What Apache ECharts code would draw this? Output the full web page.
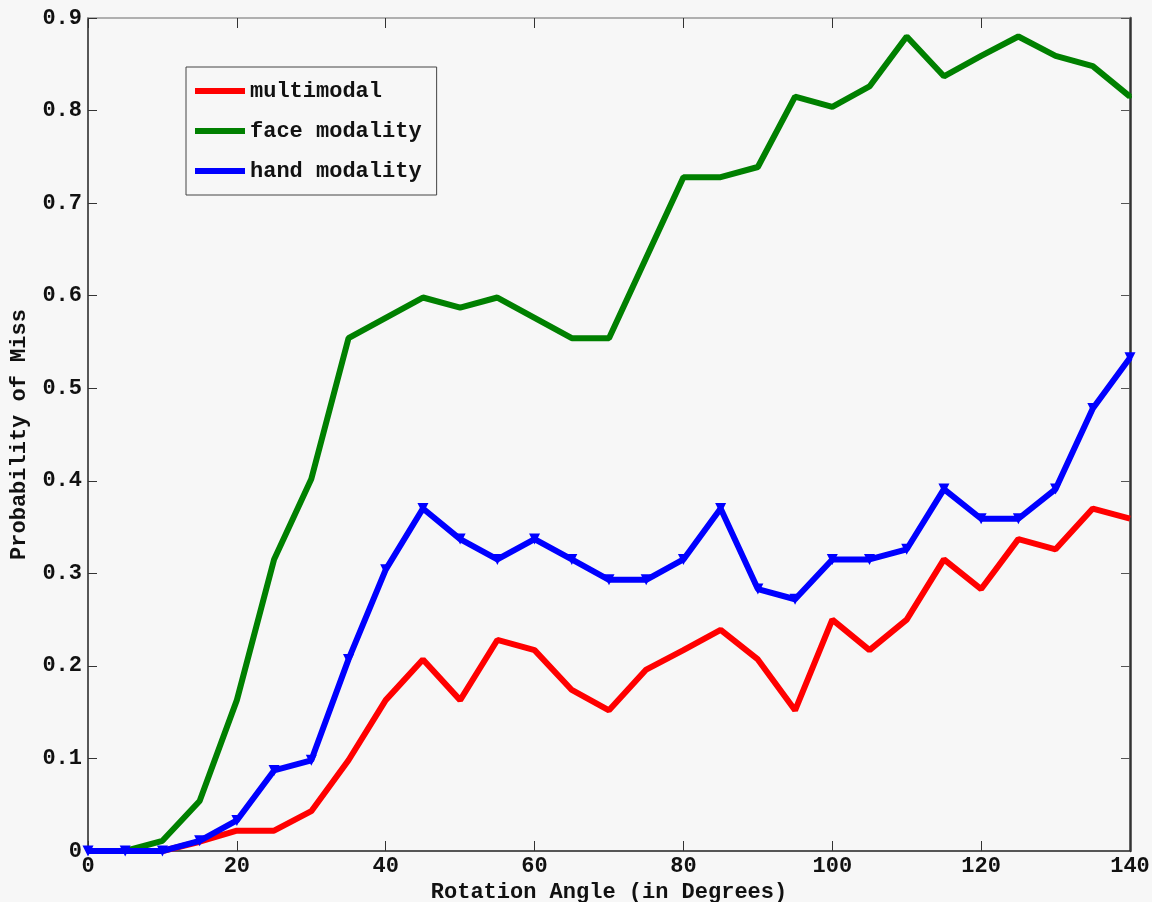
<!DOCTYPE html>
<html>
<head>
<meta charset="utf-8">
<script src="https://cdn.jsdelivr.net/npm/echarts@6/dist/echarts.min.js"></script>
<style>
html,body{margin:0;padding:0;background:#f7f7f7;}
#c{width:1152px;height:902px;}
</style>
</head>
<body>
<div id="c"></div>
<script>
const angles = [0,5,10,15,20,25,30,35,40,45,50,55,60,65,70,75,80,85,90,95,100,105,110,115,120,125,130,135,140];
const multimodal = [0,0,0,0.01,0.022,0.022,0.043,0.098,0.163,0.207,0.163,0.228,0.217,0.174,0.152,0.196,0.217,0.239,0.207,0.152,0.25,0.217,0.25,0.315,0.283,0.337,0.326,0.37,0.359];
const faceModality = [0,0,0.011,0.054,0.163,0.315,0.402,0.554,0.576,0.598,0.587,0.598,0.576,0.554,0.554,0.641,0.728,0.728,0.739,0.815,0.804,0.826,0.88,0.837,0.859,0.88,0.859,0.848,0.815];
const handModality = [0,0,0,0.011,0.033,0.087,0.098,0.207,0.304,0.37,0.337,0.315,0.337,0.315,0.293,0.293,0.315,0.37,0.283,0.272,0.315,0.315,0.326,0.391,0.359,0.359,0.391,0.478,0.533];
const seriesNames = ['multimodal','face modality','hand modality'];
const xTicks = {min:0, max:140, interval:20};
const yTicks = {min:0, max:0.9, interval:0.1};

const FONT = '"Liberation Mono", "DejaVu Sans Mono", monospace';
const txt = {fontFamily: FONT, fontWeight: 'bold', fontSize: 22, color: '#111'};
const pairs = arr => angles.map((a,i)=>[a, arr[i]]);

const chart = echarts.init(document.getElementById('c'), null, {renderer:'canvas'});
chart.setOption({
  animation: false,
  backgroundColor: '#f7f7f7',
  grid: {left: 88, right: 22, top: 18, bottom: 51, containLabel: false, outerBoundsMode: 'none'},
  legend: {
    orient: 'vertical', left: 186, top: 67,
    padding: [13, 15, 13, 9],
    itemWidth: 50, itemHeight: 6, itemGap: 18,
    icon: 'rect',
    borderColor: '#444', borderWidth: 1,
    backgroundColor: '#f7f7f7',
    textStyle: Object.assign({}, txt, {padding:[0,0,0,0]}),
    data: seriesNames
  },
  xAxis: [{
    type: 'value', min: xTicks.min, max: xTicks.max, interval: xTicks.interval,
    position: 'bottom',
    name: 'Rotation Angle (in Degrees)', nameLocation: 'middle', nameGap: 20,
    nameTextStyle: txt,
    axisLine: {show: true, onZero: false, lineStyle: {color: '#222', width: 1.5}},
    axisTick: {show: true, inside: true, length: 10, lineStyle: {color: '#333'}},
    axisLabel: Object.assign({margin: 4}, txt),
    splitLine: {show: false}
  },{
    type: 'value', min: xTicks.min, max: xTicks.max, interval: xTicks.interval,
    position: 'top',
    axisLine: {show: true, onZero: false, lineStyle: {color: '#999', width: 1.5}},
    axisTick: {show: true, inside: true, length: 10, lineStyle: {color: '#333'}},
    axisLabel: {show: false},
    splitLine: {show: false}
  }],
  yAxis: [{
    type: 'value', min: yTicks.min, max: yTicks.max, interval: yTicks.interval,
    position: 'left',
    name: 'Probability of Miss', nameLocation: 'middle', nameGap: 58,
    nameTextStyle: txt,
    axisLine: {show: true, onZero: false, lineStyle: {color: '#222', width: 1.5}},
    axisTick: {show: true, inside: true, length: 9, lineStyle: {color: '#333'}},
    axisLabel: Object.assign({margin: 6}, txt),
    splitLine: {show: false}
  },{
    type: 'value', min: yTicks.min, max: yTicks.max, interval: yTicks.interval,
    position: 'right',
    axisLine: {show: true, onZero: false, lineStyle: {color: '#333', width: 2.5}},
    axisTick: {show: true, inside: true, length: 9, lineStyle: {color: '#555'}},
    axisLabel: {show: false},
    splitLine: {show: false}
  }],
  series: [{
    name: seriesNames[0], type: 'line', data: pairs(multimodal),
    symbol: 'none', color: '#ff0000',
    lineStyle: {width: 6, color: '#ff0000'}
  },{
    name: seriesNames[1], type: 'line', data: pairs(faceModality),
    symbol: 'circle', symbolSize: 4, color: '#008000',
    itemStyle: {color: '#008000'},
    lineStyle: {width: 6, color: '#008000'}
  },{
    name: seriesNames[2], type: 'line', data: pairs(handModality),
    symbol: 'triangle', symbolSize: 11, symbolRotate: 180, color: '#0000ff',
    itemStyle: {color: '#0000ff'},
    lineStyle: {width: 6, color: '#0000ff'}
  }]
});
</script>
</body>
</html>
